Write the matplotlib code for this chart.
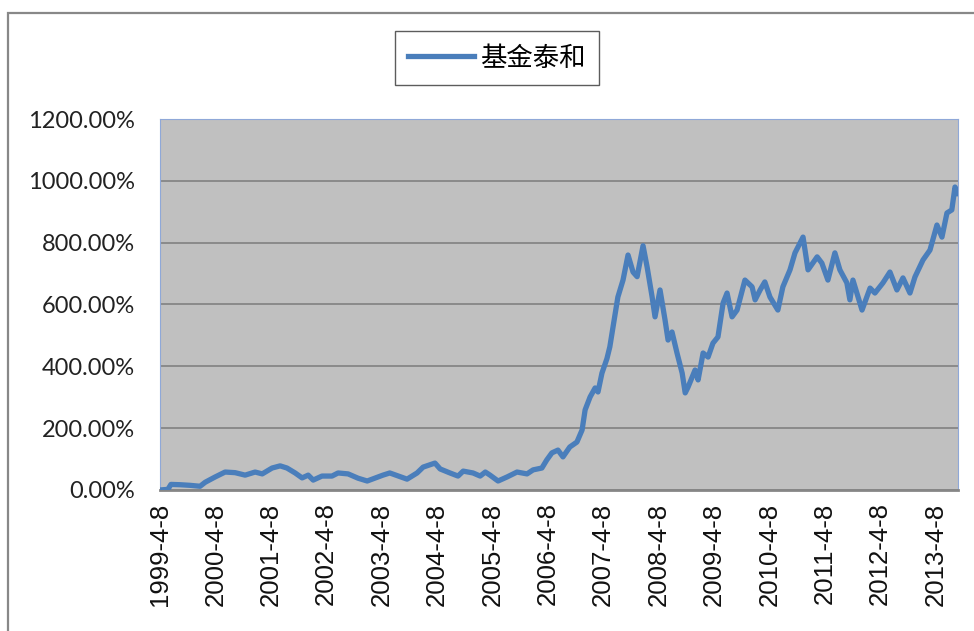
import matplotlib
matplotlib.use('Agg')
import matplotlib.pyplot as plt
from matplotlib.patches import Rectangle
import pandas as pd

# cumulative return of the fund (percent)
dates = [
    '1999-04-08', '1999-05-30', '1999-06-19', '1999-08-18', '1999-10-23', '1999-12-28',
    '2000-01-31', '2000-04-05', '2000-06-10', '2000-08-15', '2000-10-20', '2000-12-25',
    '2001-02-10', '2001-04-16', '2001-06-08', '2001-07-23', '2001-09-15', '2001-10-31',
    '2001-12-10', '2002-01-12', '2002-03-11', '2002-05-16', '2002-06-25', '2002-08-30',
    '2002-11-04', '2003-01-03', '2003-04-17', '2003-06-01', '2003-09-23', '2003-11-28',
    '2004-01-07', '2004-03-25', '2004-04-28', '2004-07-02', '2004-08-24', '2004-09-27',
    '2004-12-01', '2005-01-17', '2005-02-20', '2005-03-23', '2005-05-15', '2005-07-13',
    '2005-09-17', '2005-11-22', '2006-01-01', '2006-02-28', '2006-04-01', '2006-05-05',
    '2006-06-14', '2006-07-17', '2006-08-31', '2006-10-17', '2006-11-20', '2006-12-10',
    '2007-01-12', '2007-02-14', '2007-03-05', '2007-03-31', '2007-05-03', '2007-05-22',
    '2007-06-12', '2007-07-14', '2007-08-17', '2007-09-19', '2007-10-22', '2007-11-18',
    '2007-12-27', '2008-01-23', '2008-02-25', '2008-03-15', '2008-04-17', '2008-05-20',
    '2008-06-09', '2008-07-05', '2008-08-07', '2008-09-10', '2008-09-30', '2008-10-19',
    '2008-12-04', '2008-12-24', '2009-01-26', '2009-02-28', '2009-04-01', '2009-05-04',
    '2009-06-07', '2009-07-03', '2009-08-05', '2009-09-07', '2009-10-29', '2009-12-15',
    '2010-01-04', '2010-02-06', '2010-03-09', '2010-04-12', '2010-06-03', '2010-07-06',
    '2010-08-22', '2010-09-24', '2010-11-16', '2010-12-19', '2011-02-17', '2011-03-20',
    '2011-04-29', '2011-06-14', '2011-07-17', '2011-09-01', '2011-09-21', '2011-10-11',
    '2011-12-10', '2012-02-01', '2012-03-04', '2012-04-26', '2012-06-11', '2012-07-27',
    '2012-09-05', '2012-10-21', '2012-11-23', '2013-01-15', '2013-03-02', '2013-04-17',
    '2013-05-20', '2013-06-22', '2013-07-24', '2013-08-14', '2013-09-03',
]
returns = [
    0, 2, 18, 17, 15, 12,
    25, 42, 58, 56, 48, 58,
    52, 71, 78, 71, 55, 39,
    48, 32, 45, 45, 55, 52,
    38, 29, 48, 55, 35, 55,
    74, 87, 68, 55, 45, 61,
    55, 45, 58, 48, 29, 42,
    58, 52, 65, 71, 97, 120,
    129, 107, 139, 155, 194, 259,
    301, 330, 317, 378, 425, 463,
    527, 624, 679, 760, 705, 690,
    790, 721, 624, 560, 647, 550,
    485, 511, 443, 378, 314, 333,
    388, 356, 443, 430, 475, 495,
    605, 637, 560, 582, 679, 657,
    615, 647, 673, 624, 582, 657,
    712, 767, 818, 712, 754, 734,
    679, 767, 712, 670, 615, 679,
    582, 653, 637, 670, 705, 647,
    686, 637, 689, 744, 776, 857,
    818, 896, 906, 980, 960,
]
tick_years = list(range(1999, 2014))
yticks = [0, 200, 400, 600, 800, 1000, 1200]
series_name = '基金泰和'

x = pd.to_datetime(dates)

fig = plt.figure(figsize=(9.74, 6.31), dpi=100)
fig.patches.append(Rectangle((0.0082, -0.05), 1.1, 0.05 + 0.979, transform=fig.transFigure,
                             fill=False, edgecolor='#888888', linewidth=1.6))

ax = fig.add_axes([0.1643, 0.2235, 0.8193, 0.5879])
ax.set_facecolor('#C0C0C0')
ax.plot(x, returns, color='#4A7EBB', lw=3.8, solid_joinstyle='round', label=series_name, zorder=3)

ax.set_ylim(0, 1200)
ax.set_yticks(yticks)
ax.set_yticklabels(['%.2f%%' % v for v in yticks], fontfamily='Lato', fontsize=17, color='#222222')
ax.grid(axis='y', color='#868686', lw=1.3)
ax.set_axisbelow(True)

ticks = pd.to_datetime(['%d-04-08' % y for y in tick_years])
ax.set_xlim(x[0], x[-1])
ax.set_xticks(ticks)
ax.set_xticklabels(['%d-4-8' % y for y in tick_years], rotation=90,
                   fontfamily='Liberation Sans', fontsize=18.5, color='#111111')
ax.tick_params(axis='y', length=0, pad=18)
ax.tick_params(axis='x', length=0, pad=9)

for s in ['left', 'right', 'top']:
    ax.spines[s].set_color('#8FA8D8')
    ax.spines[s].set_linewidth(0.8)
ax.spines['bottom'].set_color('#868686')
ax.spines['bottom'].set_linewidth(2)

leg = fig.legend(loc='center', bbox_to_anchor=(0.51, 0.908), frameon=True, fancybox=False,
                 prop={'family': ['Noto Sans CJK SC', 'DejaVu Sans'], 'size': 19},
                 handlelength=2.5, handletextpad=0.25, borderpad=0.5, borderaxespad=0)
leg.get_frame().set_edgecolor('#333333')
leg.get_frame().set_linewidth(1.0)

fig.savefig('out.png', dpi=100)
